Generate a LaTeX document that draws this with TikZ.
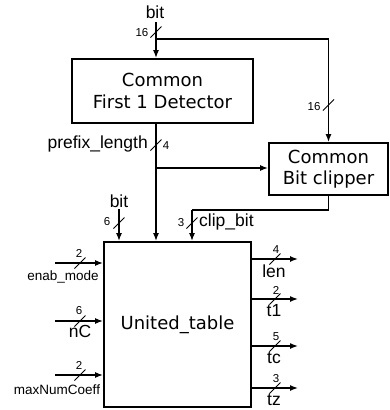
\documentclass[tikz,border=0pt]{standalone}
\usepackage{fontspec}
\setmainfont{Liberation Sans}
\newfontfamily\boxfont{DejaVu Sans}
\usetikzlibrary{arrows.meta,calc}
\tikzset{
  blk/.style={draw, line width=1.8pt, inner sep=0pt, font=\boxfont\fontsize{18}{21.5}\selectfont, align=center},
  wire/.style={line width=1.4pt},
  arr/.style={wire, -{Latex[length=8pt,width=6pt]}},
  lab/.style={inner sep=0pt, font=\fontsize{17.5}{19}\selectfont},
  slab/.style={inner sep=0pt, font=\fontsize{13.5}{15}\selectfont},
  num/.style={inner sep=0pt, font=\fontsize{11.5}{13}\selectfont},
  slashmark/.style={line width=1pt}
}
\newcommand{\busmark}[1]{\draw[slashmark] ($(#1)+(-5.5pt,-5.5pt)$) -- ($(#1)+(5.5pt,5.5pt)$);}
\begin{document}
\begin{tikzpicture}[x=1pt,y=-1pt]
\useasboundingbox (0,0) rectangle (390,410);
% blocks
\node[blk, minimum width=181pt, minimum height=64pt] (FD) at (162.5,91) {Common\\First 1 Detector};
\node[blk, minimum width=119pt, minimum height=52pt] (CL) at (328.5,169) {Common\\Bit clipper};
\node[blk, minimum width=147pt, minimum height=165pt] (UT) at (177.5,324.5) {United\_table};
% top input
\node[lab] (bitA) at (155,12) {bit};
\coordinate (bitAs) at (156,22);
\coordinate (J1) at (156,39);
\draw[arr] (bitAs) -- (FD.north -| bitAs);
\draw[wire] (J1) -- (J1 -| CL.north);
\draw[arr] (J1 -| CL.north) -- (CL.north);
\coordinate (s1) at (156,32); \busmark{s1}
\node[num] (n16a) at (142,33) {16};
\coordinate (s2) at (328.5,105); \busmark{s2}
\node[num] (n16b) at (314,107) {16};
% prefix length
\coordinate (FDb) at (156,0);
\draw[arr] (FD.south -| FDb) -- (UT.north -| FDb);
\coordinate (s3) at (156,145); \busmark{s3}
\node[lab, anchor=east] (pl) at (148,144) {prefix\_length};
\node[num] (n4) at (166,146) {4};
\coordinate (J2) at (156,168);
\draw[arr] (J2) -- (J2 -| CL.west);
% clip bit
\coordinate (cb1) at (328.5,210);
\coordinate (cb2) at (192,210);
\draw[wire] (CL.south) -- (cb1) -- (cb2);
\draw[arr] (cb2) -- (UT.north -| cb2);
\coordinate (s4) at (192,223); \busmark{s4}
\node[num] (n3) at (181,223) {3};
\node[lab, anchor=west] (cbl) at (199,222) {clip\_bit};
% bit 6
\node[lab] (bitB) at (119,201) {bit};
\coordinate (bitBs) at (119,209);
\draw[arr] (bitBs) -- (UT.north -| bitBs);
\coordinate (s5) at (119,223); \busmark{s5}
\node[num] (n6) at (107,222) {6};
% left inputs
\coordinate (i1) at (55,263);
\draw[arr] (i1) -- (UT.west |- i1);
\coordinate (s6) at (80,263); \busmark{s6}
\node[num] (n2a) at (79,253) {2};
\node[slab] (em) at (63,277) {enab\_mode};
\coordinate (i2) at (55,321);
\draw[arr] (i2) -- (UT.west |- i2);
\coordinate (s7) at (80,321); \busmark{s7}
\node[num] (n6b) at (79,311) {6};
\node[lab] (nc) at (80,331) {nC};
\coordinate (i3) at (55,375);
\draw[arr] (i3) -- (UT.west |- i3);
\coordinate (s8) at (80,375); \busmark{s8}
\node[num] (n2b) at (79,365) {2};
\node[slab] (mx) at (57,390) {maxNumCoeff};
% outputs
\foreach \y/\n/\l/\nm in {259/4/len/o1, 299/2/t1/o2, 346/5/tc/o3, 388/3/tz/o4}{
  \coordinate (\nm e) at (298,\y);
  \draw[arr] (UT.east |- \nm e) -- (\nm e);
  \coordinate (\nm s) at (275,\y); \busmark{\nm s}
  \node[num] (\nm n) at (276,\y-9) {\n};
  \node[lab] (\nm l) at (274,\y+12) {\l};
}
\end{tikzpicture}
\end{document}
